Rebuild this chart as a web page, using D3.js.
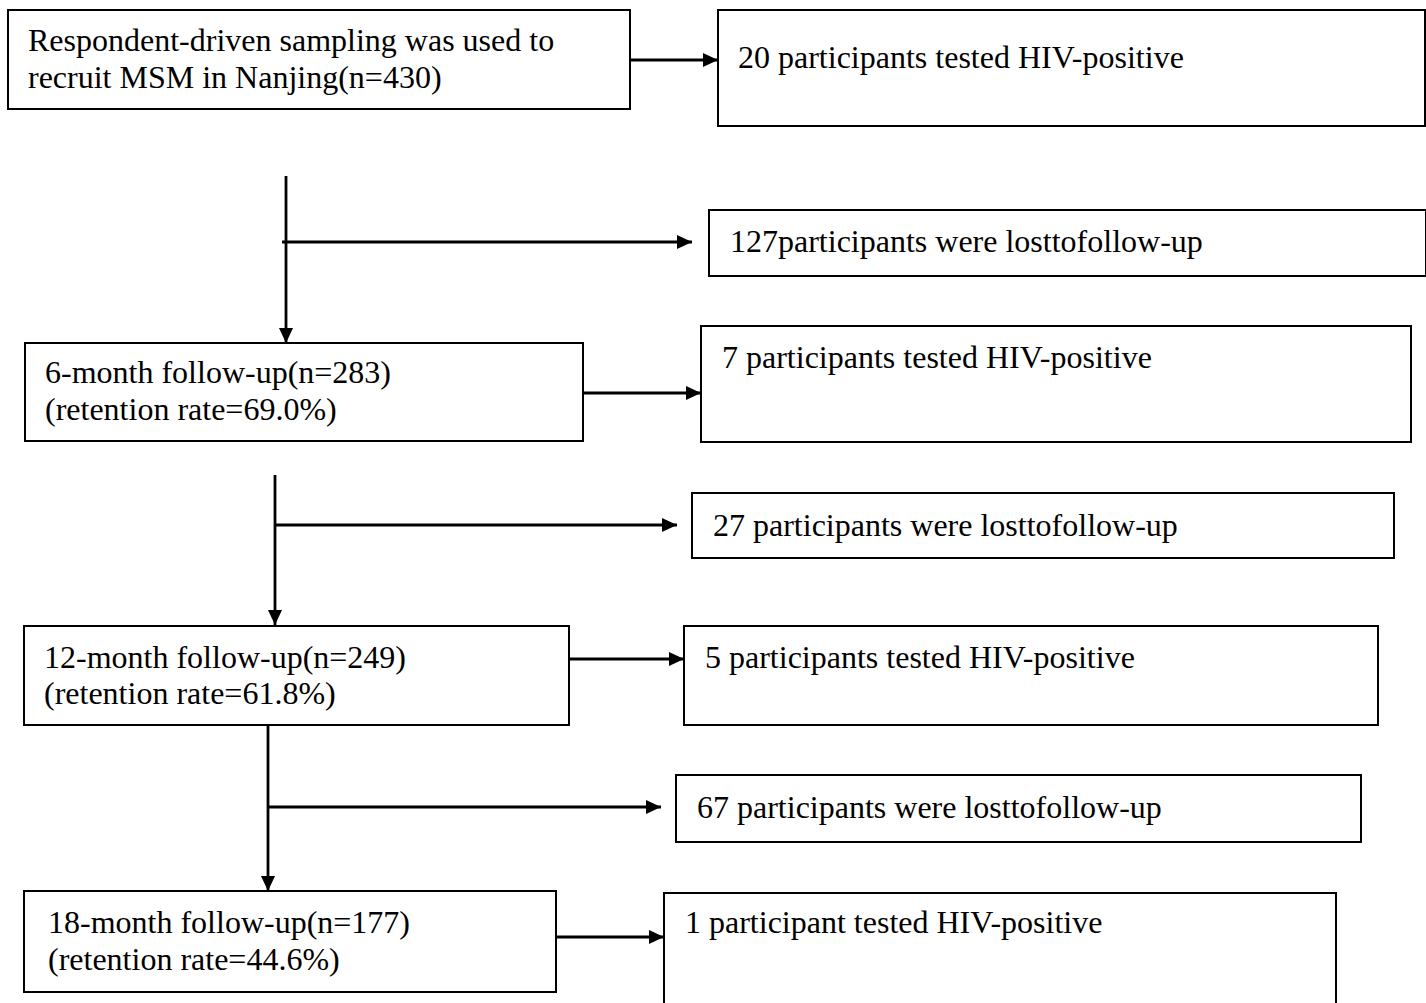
<!DOCTYPE html>
<html>
<head>
<meta charset="utf-8">
<script src="https://cdn.jsdelivr.net/npm/d3@7"></script>
<style>
  html, body { margin: 0; padding: 0; background: #fff; }
  svg { display: block; }
  text { font-family: "Liberation Serif", "Times New Roman", serif; font-size: 32px; fill: #000; }
</style>
</head>
<body>
<svg id="chart" width="1426" height="1003"></svg>
<script>
// ---- data ----
const baselineLabel = ["Respondent-driven sampling was used to", "recruit MSM in Nanjing(n=430)"];
const stageLabels = ["6-month follow-up(n=283)", "12-month follow-up(n=249)", "18-month follow-up(n=177)"];
const retentionLabels = ["(retention rate=69.0%)", "(retention rate=61.8%)", "(retention rate=44.6%)"];
const hivLabels = ["20 participants tested HIV-positive", "7 participants tested HIV-positive",
                   "5 participants tested HIV-positive", "1 participant tested HIV-positive"];
const lostLabels = ["127participants were losttofollow-up", "27 participants were losttofollow-up",
                    "67 participants were losttofollow-up"];

// ---- layout ----
const mainBoxes = [
  {x0: 8,  x1: 630, y0: 10,  y1: 109, tx: 28, ty: [51, 88], lines: baselineLabel},
  {x0: 25, x1: 583, y0: 343, y1: 441, tx: 45, ty: [383, 420], lines: [stageLabels[0], retentionLabels[0]]},
  {x0: 24, x1: 569, y0: 626, y1: 725, tx: 44, ty: [668, 704], lines: [stageLabels[1], retentionLabels[1]]},
  {x0: 24, x1: 556, y0: 891, y1: 992, tx: 48, ty: [933, 970], lines: [stageLabels[2], retentionLabels[2]]}
];
const hivBoxes = [
  {x0: 718, x1: 1425, y0: 10,  y1: 126, tx: 738, ty: [68]},
  {x0: 701, x1: 1411, y0: 326, y1: 442, tx: 722, ty: [368]},
  {x0: 684, x1: 1378, y0: 626, y1: 725, tx: 705, ty: [668]},
  {x0: 664, x1: 1336, y0: 893, y1: 1010, tx: 685, ty: [933]}
].map((b, i) => Object.assign(b, {lines: [hivLabels[i]]}));
const lostBoxes = [
  {x0: 709, x1: 1426, y0: 210, y1: 276, tx: 730, ty: [252]},
  {x0: 692, x1: 1394, y0: 493, y1: 558, tx: 713, ty: [536]},
  {x0: 676, x1: 1361, y0: 775, y1: 842, tx: 697, ty: [818]}
].map((b, i) => Object.assign(b, {lines: [lostLabels[i]]}));

const svg = d3.select("#chart");

// arrowhead marker
svg.append("defs").append("marker")
  .attr("id", "arrow")
  .attr("viewBox", "0 0 15 14")
  .attr("refX", 15).attr("refY", 7)
  .attr("markerWidth", 15).attr("markerHeight", 14)
  .attr("markerUnits", "userSpaceOnUse")
  .attr("orient", "auto")
  .append("path").attr("d", "M0,0L15,7L0,14Z").attr("fill", "#000");

const allBoxes = mainBoxes.concat(hivBoxes, lostBoxes);

const g = svg.selectAll("g.box").data(allBoxes).join("g").attr("class", "box");
g.append("rect")
  .attr("x", d => d.x0).attr("y", d => d.y0)
  .attr("width", d => d.x1 - d.x0).attr("height", d => d.y1 - d.y0)
  .attr("fill", "none").attr("stroke", "#000").attr("stroke-width", 2);
g.each(function(d) {
  d3.select(this).selectAll("text").data(d.lines).join("text")
    .attr("x", d.tx).attr("y", (t, i) => d.ty[i]).text(t => t);
});

// connectors
const line = d3.line();
const arrows = [];
// main -> HIV box (horizontal)
mainBoxes.forEach((b, i) => {
  const y = [60, 393, 659, 937][i];
  arrows.push([[b.x1, y], [hivBoxes[i].x0, y]]);
});
// vertical flow + lost branches
const flows = [
  {x: 286, yTop: 176, yBot: 343, yb: 242, xs: 282, xe: 692},
  {x: 275, yTop: 475, yBot: 625, yb: 525, xs: 275, xe: 677},
  {x: 268, yTop: 725, yBot: 891, yb: 807, xs: 268, xe: 661}
];
flows.forEach(f => {
  arrows.push([[f.x, f.yTop], [f.x, f.yBot]]);
  arrows.push([[f.xs, f.yb], [f.xe, f.yb]]);
});

svg.selectAll("path.conn").data(arrows).join("path")
  .attr("class", "conn")
  .attr("d", d => line(d))
  .attr("fill", "none").attr("stroke", "#000").attr("stroke-width", 2.8)
  .attr("marker-end", "url(#arrow)");
</script>
</body>
</html>
